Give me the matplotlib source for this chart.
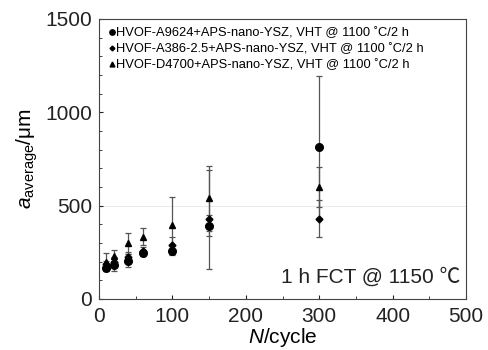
import matplotlib
matplotlib.use("Agg")
import matplotlib.pyplot as plt
from matplotlib.ticker import MultipleLocator
from matplotlib.lines import Line2D

plt.rcParams['font.family'] = ['Liberation Sans', 'DejaVu Sans']
plt.rcParams['mathtext.fontset'] = 'custom'
plt.rcParams['mathtext.rm'] = 'Liberation Sans'
plt.rcParams['mathtext.it'] = 'Liberation Sans:italic'

cycles = [10, 20, 40, 60, 100, 150, 300]
a9624 = [168, 182, 204, 245, 259, 393, 816]
a9624_err = [18, 35, 35, 15, 25, 55, 380]
a386 = [185, 200, 227, 259, 288, 427, 429]
a386_err = [20, 25, 25, 20, 45, 265, 100]
d4700 = [200, 230, 298, 334, 395, 539, 602]
d4700_err = [45, 32, 57, 45, 153, 175, 107]
labels = ['HVOF-A9624+APS-nano-YSZ, VHT @ 1100 ˚C/2 h',
          'HVOF-A386-2.5+APS-nano-YSZ, VHT @ 1100 ˚C/2 h',
          'HVOF-D4700+APS-nano-YSZ, VHT @ 1100 ˚C/2 h']
markers = ['o', 'D', '^']
msizes = [5.5, 3.5, 5]

fig = plt.figure(figsize=(4.89, 3.5), dpi=100)
ax = fig.add_axes([0.2025, 0.146, 0.7505, 0.8])

ax.axhline(500, color='#e6e6e6', lw=0.6, zorder=0)
ekw = dict(ecolor='#555555', elinewidth=0.9, capsize=2.2, capthick=0.9, linestyle='none')
for vals, errs, m, ms in zip([a9624, a386, d4700], [a9624_err, a386_err, d4700_err], markers, msizes):
    ax.errorbar(cycles, vals, yerr=errs, fmt=m, color='black', ms=ms, **ekw)

ax.set_xlim(0, 500)
ax.set_ylim(0, 1500)
ax.xaxis.set_major_locator(MultipleLocator(100))
ax.xaxis.set_minor_locator(MultipleLocator(50))
ax.yaxis.set_major_locator(MultipleLocator(500))
ax.yaxis.set_minor_locator(MultipleLocator(100))
ax.tick_params(which='both', direction='in', top=False, right=False, labelsize=15, colors='#222222')
ax.tick_params(which='major', length=3)
ax.tick_params(which='minor', length=2)
ax.tick_params(axis='x', which='major', pad=6)
ax.tick_params(axis='y', which='major', pad=5)
for s in ax.spines.values():
    s.set_color('#444444')
    s.set_linewidth(0.8)

ax.set_xlabel(r'$\it{N}$/cycle', fontsize=15, labelpad=0)
ax.set_ylabel(r'$\it{a}_{\rm average}$/μm', fontsize=15, labelpad=4)

handles = [Line2D([], [], marker=m, color='black', linestyle='none', ms=ms * 0.7)
           for m, ms in zip(markers, msizes)]
leg = ax.legend(handles, labels, loc='upper left', frameon=False, fontsize=9.3, handletextpad=0.0,
                handlelength=0.7, borderaxespad=0.15, borderpad=0.5, labelspacing=0.3)

ax.text(0.985, 0.045, '1 h FCT @ 1150 ℃', transform=ax.transAxes, ha='right', va='bottom',
        fontsize=15, color='#222222', family=['Liberation Sans', 'Noto Sans CJK SC'])

fig.savefig('out.png', dpi=100)
